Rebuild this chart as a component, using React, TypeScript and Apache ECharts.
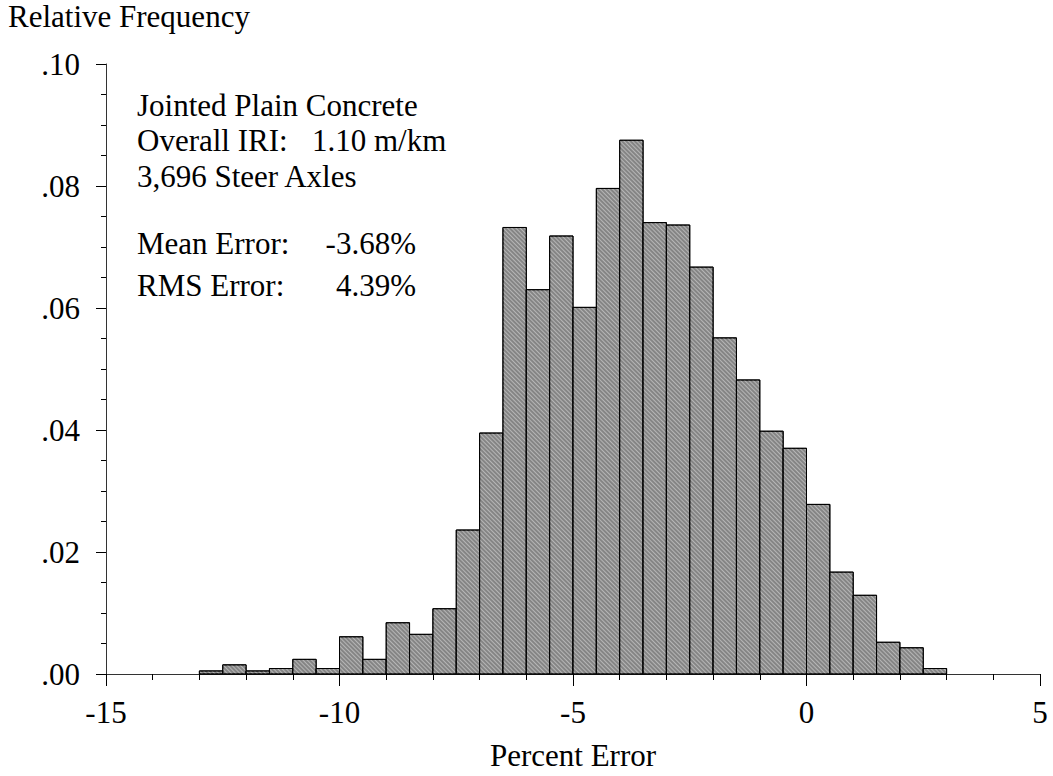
import React, { useEffect, useRef } from "react";
import * as echarts from "echarts";

const binStarts = [
  -13, -12.5, -12, -11.5, -11, -10.5, -10, -9.5, -9, -8.5, -8, -7.5, -7, -6.5,
  -6, -5.5, -5, -4.5, -4, -3.5, -3, -2.5, -2, -1.5, -1, -0.5, 0, 0.5, 1, 1.5,
  2, 2.5,
];
const binWidth = 0.5;
const frequencies = [
  0.0005, 0.0015, 0.0005, 0.0009, 0.0024, 0.0009, 0.0061, 0.0024, 0.0084,
  0.0065, 0.0107, 0.0236, 0.0395, 0.0732, 0.063, 0.0718, 0.0601, 0.0796,
  0.0875, 0.074, 0.0736, 0.0667, 0.0551, 0.0482, 0.0398, 0.037, 0.0278,
  0.0167, 0.0129, 0.0052, 0.0043, 0.0009,
];
const annotationLeft = [
  "Jointed Plain Concrete",
  "Overall IRI:",
  "3,696 Steer Axles",
  "Mean Error:",
  "RMS Error:",
];
const annotationValues = ["1.10 m/km", "-3.68%", "4.39%"];
const yAxisTitle = "Relative Frequency";
const xAxisTitle = "Percent Error";

const FONT = "'Liberation Serif', 'Times New Roman', serif";
const FS = 31;

export default function App() {
  const ref = useRef<HTMLDivElement>(null);
  useEffect(() => {
    if (!ref.current) return;
    const chart = echarts.init(ref.current, undefined, { renderer: "svg" });
    const data = binStarts.map((s, i) => [s, s + binWidth, frequencies[i]]);
    const textStyle = { fontFamily: FONT, fontSize: FS, fill: "#000", verticalAlign: "top" };
    chart.setOption({
      animation: false,
      backgroundColor: "#fff",
      grid: { left: 106, right: 13, top: 64, bottom: 99 },
      xAxis: {
        type: "value",
        min: -15,
        max: 5,
        interval: 5,
        name: xAxisTitle,
        nameLocation: "middle",
        nameGap: 66,
        nameTextStyle: { fontFamily: FONT, fontSize: FS, color: "#000" },
        axisLine: { onZero: false, lineStyle: { color: "#333", width: 1 } },
        axisTick: { length: 12, lineStyle: { color: "#000" } },
        minorTick: { show: true, splitNumber: 5, length: 6, lineStyle: { color: "#000" } },
        splitLine: { show: false },
        axisLabel: { fontFamily: FONT, fontSize: FS, color: "#000", margin: 23 },
      },
      yAxis: {
        type: "value",
        min: 0,
        max: 0.1,
        interval: 0.02,
        axisLine: { show: true, onZero: false, lineStyle: { color: "#333", width: 1 } },
        axisTick: { show: true, length: 10, lineStyle: { color: "#000" } },
        minorTick: { show: true, splitNumber: 4, length: 5, lineStyle: { color: "#000" } },
        splitLine: { show: false },
        axisLabel: {
          fontFamily: FONT,
          fontSize: FS,
          color: "#000",
          margin: 26,
          formatter: (v: number) => v.toFixed(2).replace(/^0\./, "."),
        },
      },
      series: [
        {
          type: "custom",
          data,
          encode: { x: [0, 1], y: 2 },
          renderItem: (params: any, api: any) => {
            const p0 = api.coord([api.value(0), 0]);
            const p1 = api.coord([api.value(1), api.value(2)]);
            return {
              type: "rect",
              shape: { x: p0[0], y: p1[1], width: p1[0] - p0[0], height: p0[1] - p1[1] },
              style: {
                fill: "#858585",
                stroke: "#000",
                lineWidth: 1,
                decal: {
                  color: "rgba(255,255,255,0.4)",
                  symbol: "rect",
                  dashArrayX: [1, 0],
                  dashArrayY: [1, 2],
                  rotation: Math.PI / 4,
                },
              },
            };
          },
        },
      ],
      graphic: [
        { type: "text", x: 8, y: 1, style: { ...textStyle, text: yAxisTitle } },
        { type: "text", x: 137, y: 90, style: { ...textStyle, text: annotationLeft[0] } },
        { type: "text", x: 137, y: 125, style: { ...textStyle, text: annotationLeft[1] } },
        { type: "text", x: 312, y: 125, style: { ...textStyle, text: annotationValues[0] } },
        { type: "text", x: 137, y: 161, style: { ...textStyle, text: annotationLeft[2] } },
        { type: "text", x: 137, y: 228, style: { ...textStyle, text: annotationLeft[3] } },
        { type: "text", x: 416, y: 228, style: { ...textStyle, text: annotationValues[1], align: "right" } },
        { type: "text", x: 137, y: 270, style: { ...textStyle, text: annotationLeft[4] } },
        { type: "text", x: 416, y: 270, style: { ...textStyle, text: annotationValues[2], align: "right" } },
      ],
    });
    return () => chart.dispose();
  }, []);
  return <div ref={ref} style={{ width: 1053, height: 776, position: "absolute", left: 0, top: 0 }} />;
}
